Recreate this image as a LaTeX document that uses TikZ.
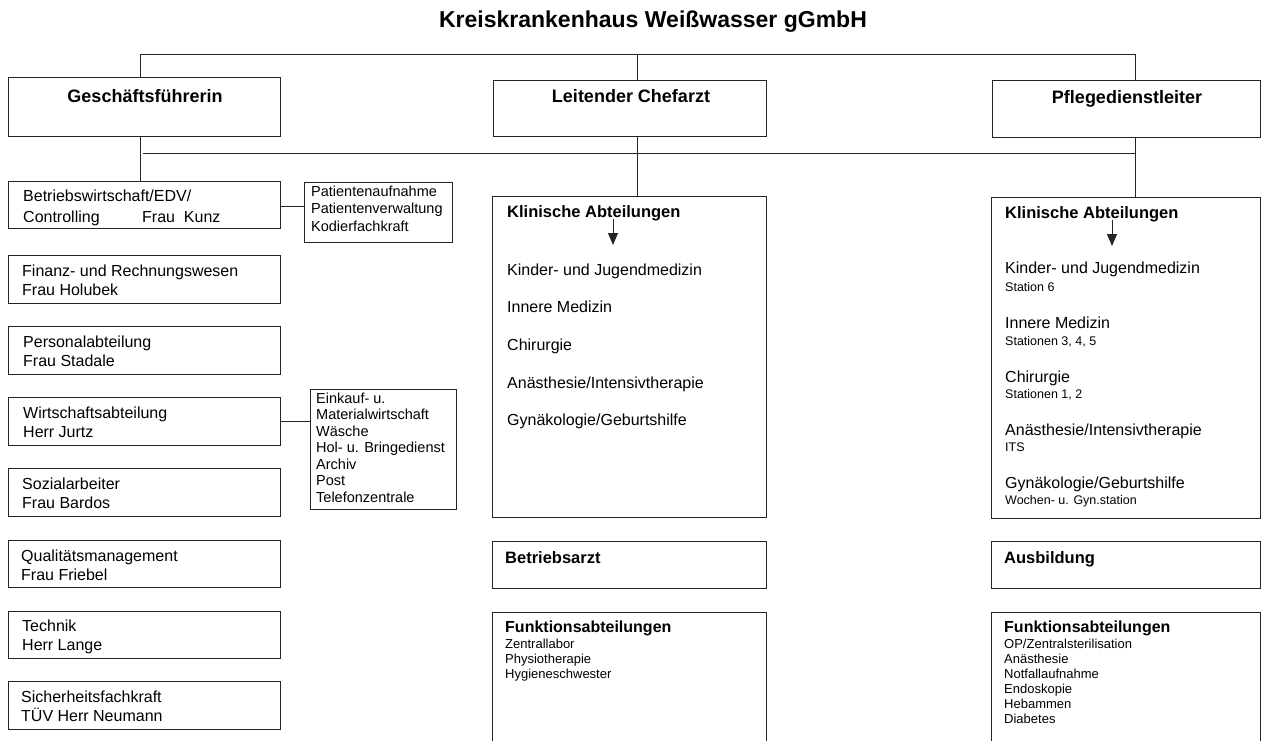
\documentclass[tikz,border=0pt]{standalone}
\usepackage{fontspec}
\setmainfont{Liberation Sans}
\usetikzlibrary{arrows.meta}
\newcommand\fTitle{\fontsize{23}{27}\selectfont\bfseries}
\newcommand\fHead{\fontsize{18}{22}\selectfont\bfseries}
\newcommand\fLeft{\fontsize{16}{19}\selectfont}
\newcommand\fSide{\fontsize{14.5}{17.5}\selectfont}
\newcommand\fKHead{\fontsize{16.5}{20}\selectfont\bfseries}
\newcommand\fKItem{\fontsize{16}{19}\selectfont}
\newcommand\fKSub{\fontsize{12.5}{15}\selectfont}
\newcommand\fFHead{\fontsize{16}{19}\selectfont\bfseries}
\newcommand\fFList{\fontsize{13}{15}\selectfont}
\begin{document}
\begin{tikzpicture}[x=1pt,y=-1pt,
  box/.style={draw=black!85,line width=1.1pt,rectangle,inner sep=0pt,anchor=north west},
  conn/.style={draw=black!85,line width=1pt},
  txt/.style={inner sep=0pt,anchor=base west,align=left,text=black},
  ctxt/.style={inner sep=0pt,anchor=base,text=black},
  arr/.style={conn,-{Triangle[width=10pt,length=12pt]}}]
\path[use as bounding box,clip] (0,0) rectangle (1261,740);
\fill[white] (0,0) rectangle (1261,740);

% title
\node[ctxt,font=\fTitle] (title) at (653,27) {Kreiskrankenhaus Weißwasser gGmbH};

% top level boxes
\node[box,minimum width=272pt,minimum height=59pt] (gf) at (8,77) {};
\node[box,minimum width=273pt,minimum height=56pt] (lc) at (493,80) {};
\node[box,minimum width=268pt,minimum height=57pt] (pd) at (992,80) {};
\node[ctxt,font=\fHead] (gft) at (145,102) {Geschäftsführerin};
\node[ctxt,font=\fHead] (lct) at (631,102) {Leitender Chefarzt};
\node[ctxt,font=\fHead] (pdt) at (1127,103) {Pflegedienstleiter};

% bus coordinates
\coordinate (t1) at (140,54);
\coordinate (t2) at (637,54);
\coordinate (t3) at (1135,54);
\coordinate (b1) at (143,153);
\coordinate (b3) at (1135,153);
\draw[conn] (gf.north -| t1) -- (t1) -- (t3) -- (pd.north -| t3);
\draw[conn] (t2) -- (lc.north -| t2);
\draw[conn] (b1) -- (b3);

% left column
\node[box,minimum width=272pt,minimum height=47pt] (bw) at (8,181) {};
\node[box,minimum width=148pt,minimum height=60pt] (pa) at (304,182) {};
\node[box,minimum width=272pt,minimum height=48pt] (fi) at (8,255) {};
\node[box,minimum width=272pt,minimum height=48pt] (pe) at (8,326) {};
\node[box,minimum width=272pt,minimum height=48pt] (ws) at (8,397) {};
\node[box,minimum width=146pt,minimum height=120pt] (ek) at (310,389) {};
\node[box,minimum width=272pt,minimum height=48pt] (so) at (8,468) {};
\node[box,minimum width=272pt,minimum height=47pt] (qm) at (8,540) {};
\node[box,minimum width=272pt,minimum height=47pt] (te) at (8,611) {};
\node[box,minimum width=272pt,minimum height=48pt] (si) at (8,681) {};

\draw[conn] (gf.south -| t1) -- (bw.north -| t1);
\coordinate (c1) at (0,206);
\draw[conn] (bw.east |- c1) -- (pa.west |- c1);
\draw[conn] (ws.east) -- (ws.east -| ek.west);

\node[txt,font=\fLeft] (bwt1) at (23,201) {Betriebswirtschaft/EDV/};
\node[txt,font=\fLeft] (bwt2) at (23,222) {Controlling};
\node[txt,font=\fLeft] (bwt3) at (142,222) {Frau\ \ Kunz};
\node[txt,font=\fSide] (pat) at (311,231) {Patientenaufnahme\\Patientenverwaltung\\Kodierfachkraft};
\node[txt,font=\fLeft] (fit) at (22,295) {Finanz- und Rechnungswesen\\Frau Holubek};
\node[txt,font=\fLeft] (pet) at (23,366) {Personalabteilung\\Frau Stadale};
\node[txt,font=\fLeft] (wst) at (23,437) {Wirtschaftsabteilung\\Herr Jurtz};
\node[txt,font=\fontsize{14.5}{16.5}\selectfont] (ekt) at (316,502) {Einkauf- u.\\Materialwirtschaft\\Wäsche\\Hol- u. Bringedienst\\Archiv\\Post\\Telefonzentrale};
\node[txt,font=\fLeft] (sot) at (22,508) {Sozialarbeiter\\Frau Bardos};
\node[txt,font=\fLeft] (qmt) at (21,580) {Qualitätsmanagement\\Frau Friebel};
\node[txt,font=\fLeft] (tet) at (22,650) {Technik\\Herr Lange};
\node[txt,font=\fLeft] (sit) at (21,721) {Sicherheitsfachkraft\\TÜV Herr Neumann};

% middle column
\node[box,minimum width=274pt,minimum height=321pt] (km) at (492,196) {};
\draw[conn] (lc.south -| t2) -- (km.north -| t2);
\node[txt,font=\fKHead] (kmh) at (507,217) {Klinische Abteilungen};
\coordinate (am1) at (613,219);
\coordinate (am2) at (613,245);
\draw[arr] (am1) -- (am2);
\node[txt,font=\fKItem] (km1) at (507,275) {Kinder- und Jugendmedizin};
\node[txt,font=\fKItem] (km2) at (507,312) {Innere Medizin};
\node[txt,font=\fKItem] (km3) at (507,350) {Chirurgie};
\node[txt,font=\fKItem] (km4) at (507,388) {Anästhesie/Intensivtherapie};
\node[txt,font=\fKItem] (km5) at (507,425) {Gynäkologie/Geburtshilfe};

\node[box,minimum width=274pt,minimum height=47pt] (ba) at (492,541) {};
\node[txt,font=\fKHead] (bat) at (505,563) {Betriebsarzt};
\node[box,minimum width=274pt,minimum height=150pt] (fm) at (492,612) {};
\node[txt,font=\fFHead] (fmh) at (505,632) {Funktionsabteilungen};
\node[txt,font=\fFList] (fml) at (505,678) {Zentrallabor\\Physiotherapie\\Hygieneschwester};

% right column
\node[box,minimum width=269pt,minimum height=321pt] (kr) at (991,197) {};
\draw[conn] (pd.south -| t3) -- (kr.north -| t3);
\node[txt,font=\fKHead] (krh) at (1005,218) {Klinische Abteilungen};
\coordinate (ar1) at (1112,220);
\coordinate (ar2) at (1112,246);
\draw[arr] (ar1) -- (ar2);
\node[txt,font=\fKItem] (kr1) at (1005,273) {Kinder- und Jugendmedizin};
\node[txt,font=\fKSub] (kr1s) at (1005,291) {Station 6};
\node[txt,font=\fKItem] (kr2) at (1005,328) {Innere Medizin};
\node[txt,font=\fKSub] (kr2s) at (1005,345) {Stationen 3, 4, 5};
\node[txt,font=\fKItem] (kr3) at (1005,382) {Chirurgie};
\node[txt,font=\fKSub] (kr3s) at (1005,398) {Stationen 1, 2};
\node[txt,font=\fKItem] (kr4) at (1005,435) {Anästhesie/Intensivtherapie};
\node[txt,font=\fKSub] (kr4s) at (1005,451) {ITS};
\node[txt,font=\fKItem] (kr5) at (1005,488) {Gynäkologie/Geburtshilfe};
\node[txt,font=\fKSub] (kr5s) at (1005,504) {Wochen- u. Gyn.station};

\node[box,minimum width=269pt,minimum height=47pt] (au) at (991,541) {};
\node[txt,font=\fKHead] (aut) at (1004,563) {Ausbildung};
\node[box,minimum width=269pt,minimum height=150pt] (fr) at (991,612) {};
\node[txt,font=\fFHead] (frh) at (1004,632) {Funktionsabteilungen};
\node[txt,font=\fFList] (frl) at (1004,723) {OP/Zentralsterilisation\\Anästhesie\\Notfallaufnahme\\Endoskopie\\Hebammen\\Diabetes};
\end{tikzpicture}
\end{document}
